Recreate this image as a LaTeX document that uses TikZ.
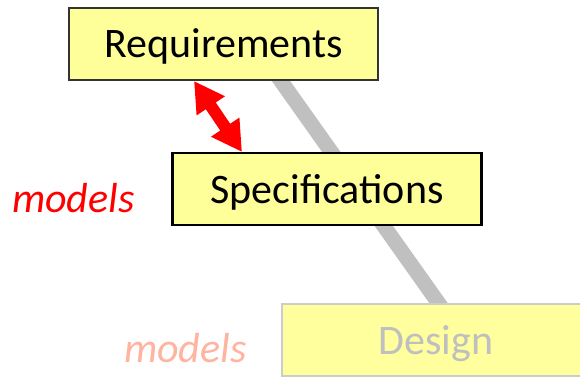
\documentclass[tikz,border=0pt]{standalone}
\usepackage{fontspec}
\setmainfont{Carlito}
\usetikzlibrary{arrows.meta}
\definecolor{boxyellow}{HTML}{FFFF99}
\definecolor{fadeyellow}{HTML}{FFFF9E}
\definecolor{pinkish}{HTML}{FFB4A0}
\definecolor{gline}{HTML}{C0C0C0}
\tikzset{
  bigtext/.style={font=\fontsize{42}{50}\selectfont},
  stagebox/.style={bigtext, draw, fill=boxyellow, minimum width=309pt, minimum height=72pt, inner sep=0pt, text=black, text height=34pt, text depth=6pt},
}
\begin{document}
\begin{tikzpicture}[x=1pt,y=-1pt]
\clip (0,0) rectangle (580,377);
\fill[white] (0,0) rectangle (580,377);
\coordinate (g1) at (276,74);
\coordinate (g2) at (442,308);
\draw[gline, line width=15pt] (g1) -- (g2);
\node[stagebox, draw=black!80, line width=2pt] (req) at (223.5,44) {Requirements};
\node[stagebox, draw=black, line width=2.2pt] (spec) at (327,189) {Specifications};
\node[stagebox, fill=fadeyellow, draw=black!20, line width=1.5pt, text=black!25, minimum width=308pt] (des) at (436,340) {Design};
\coordinate (a1) at (194,81);
\coordinate (a2) at (242,152);
\draw[red, line width=12pt, {Triangle[length=30pt,width=32pt]}-{Triangle[length=30pt,width=32pt]}] (a1) -- (a2);
\node[text=red, font=\fontsize{42}{50}\selectfont\itshape, anchor=base west, inner sep=0pt] (m1) at (12,212) {models};
\node[text=pinkish, font=\fontsize{42}{50}\selectfont\itshape, anchor=base west, inner sep=0pt] (m2) at (124,362) {models};
\end{tikzpicture}
\end{document}
